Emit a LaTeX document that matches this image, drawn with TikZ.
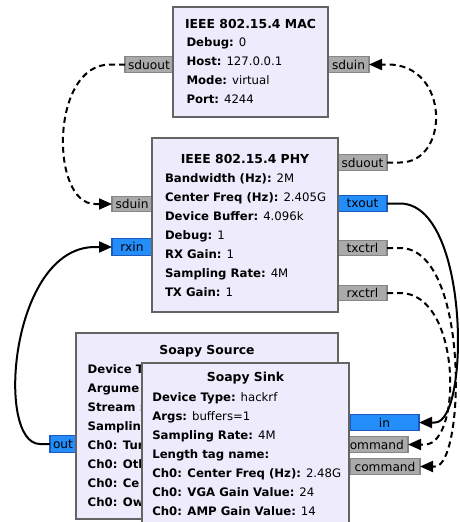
\documentclass[tikz,border=0pt]{standalone}
\usepackage{fontspec}
\setmainfont{DejaVu Sans}
\usetikzlibrary{arrows.meta,calc}
\definecolor{blockfill}{RGB}{238,235,252}
\definecolor{blockline}{RGB}{100,100,100}
\definecolor{portgray}{RGB}{170,170,170}
\definecolor{portgrayline}{RGB}{135,135,135}
\definecolor{portblue}{RGB}{35,142,250}
\definecolor{portblueline}{RGB}{30,90,190}
\begin{document}
\begin{tikzpicture}[x=1pt,y=-1pt,
  every node/.style={font=\fontsize{12.2}{14}\selectfont, inner sep=0pt, outer sep=0pt},
  block/.style={draw=blockline, fill=blockfill, line width=2pt, anchor=north west},
  gport/.style={draw=portgrayline, fill=portgray, line width=1.2pt, minimum height=15.5pt},
  bport/.style={draw=portblueline, fill=portblue, line width=1.2pt, minimum height=16.5pt},
  title/.style={anchor=base, font=\fontsize{12.4}{15}\selectfont\bfseries},
  param/.style={anchor=base west, font=\fontsize{11.7}{14}\selectfont},
  msg/.style={line width=2pt, dash pattern=on 6pt off 4pt, -{Triangle[length=13pt,width=11pt]}},
  flow/.style={line width=2pt, -{Triangle[length=13pt,width=11pt]}}
]
\useasboundingbox (0,0) rectangle (460,522);

% ---------------- IEEE 802.15.4 MAC ----------------
\node[gport, minimum width=48pt] (mac-sduout) at (149,64.5) {sduout};
\node[gport, minimum width=41pt] (mac-sduin)  at (348.5,64.5) {sduin};
\node[block, minimum width=155pt, minimum height=110pt] (mac) at (173,7) {};
\node[title] (mac-title) at (250.5,28) {IEEE 802.15.4 MAC};
\foreach \txt [count=\i] in {{\textbf{Debug:} 0},{\textbf{Host:} 127.0.0.1},{\textbf{Mode:} virtual},{\textbf{Port:} 4244}}
  \node[param] (mac-p\i) at (186.5,{46.5+19*(\i-1)}) {\txt};

% ---------------- IEEE 802.15.4 PHY ----------------
\node[gport, minimum width=40pt] (phy-sduin)  at (132,204) {sduin};
\node[bport, minimum width=40pt] (phy-rxin)   at (132,247) {rxin};
\node[gport, minimum width=49pt] (phy-sduout) at (362.5,162.5) {sduout};
\node[bport, minimum width=49pt] (phy-txout)  at (362.5,203.5) {txout};
\node[gport, minimum width=49pt] (phy-txctrl) at (362.5,248) {txctrl};
\node[gport, minimum width=49pt] (phy-rxctrl) at (362.5,293) {rxctrl};
\node[block, minimum width=186pt, minimum height=174pt] (phy) at (152,138) {};
\node[title] (phy-title) at (245,163.3) {IEEE 802.15.4 PHY};
\foreach \txt [count=\i] in {{\textbf{Bandwidth (Hz):} 2M},{\textbf{Center Freq (Hz):} 2.405G},
    {\textbf{Device Buffer:} 4.096k},{\textbf{Debug:} 1},{\textbf{RX Gain:} 1},
    {\textbf{Sampling Rate:} 4M},{\textbf{TX Gain:} 1}}
  \node[param] (phy-p\i) at (165,{182.3+19.07*(\i-1)}) {\txt};

% ---------------- Soapy Source ----------------
\node[bport, minimum width=26pt] (src-out) at (63,444) {out};
\node[gport, minimum width=69pt] (src-cmd) at (373.5,444.5) {command};
\node[block, minimum width=262pt, minimum height=186pt] (src) at (76,333) {};
\node[title] (src-title) at (207,354) {Soapy Source};
\foreach \txt [count=\i] in {{\textbf{Device T}},{\textbf{Argume}},{\textbf{Stream :}},{\textbf{Samplin}},
    {\textbf{Ch0: Tur}},{\textbf{Ch0: Oth}},{\textbf{Ch0: Ce}},{\textbf{Ch0: Ow}}}
  \node[param] (src-p\i) at (87.7,{373.3+19.06*(\i-1)}) {\txt};

% ---------------- Soapy Sink ----------------
\node[bport, minimum width=69pt] (snk-in)  at (384.5,422.5) {in};
\node[gport, minimum width=70pt] (snk-cmd) at (385,466.5) {command};
\node[block, minimum width=207pt, minimum height=180pt] (snk) at (142,363) {};
\node[title] (snk-title) at (245.5,381.7) {Soapy Sink};
\foreach \txt [count=\i] in {{\textbf{Device Type:} hackrf},{\textbf{Args:} buffers=1},
    {\textbf{Sampling Rate:} 4M},{\textbf{Length tag name:}},{\textbf{Ch0: Center Freq (Hz):} 2.48G},
    {\textbf{Ch0: VGA Gain Value:} 24},{\textbf{Ch0: AMP Gain Value:} 14}}
  \node[param] (snk-p\i) at (152.3,{401+19*(\i-1)}) {\txt};

% ---------------- connections ----------------
\draw[msg] (mac-sduout.west) -- ++(-15,0) .. controls +(-60,0) and +(-45,0) .. ([xshift=-17pt]phy-sduin.west) -- (phy-sduin.west);
\draw[msg] (phy-sduout.east) -- ++(13,0) .. controls +(50,0) and +(62,0) .. ([xshift=19pt]mac-sduin.east) -- (mac-sduin.east);
\draw[flow] (phy-txout.east) -- ++(13,0) .. controls +(70,0) and +(35,0) .. ([xshift=16pt]snk-in.east) -- (snk-in.east);
\draw[msg] (phy-txctrl.east) -- ++(13,0) .. controls +(70,0) and +(30,0) .. ([xshift=15pt]snk-cmd.east) -- (snk-cmd.east);
\draw[msg] (phy-rxctrl.east) -- ++(13,0) .. controls +(62,0) and +(37,0) .. ([xshift=17pt]src-cmd.east) -- (src-cmd.east);
\draw[flow] (src-out.west) -- ++(-10,0) .. controls +(-45,0) and +(-85,0) .. ([xshift=-17pt]phy-rxin.west) -- (phy-rxin.west);
\end{tikzpicture}
\end{document}
